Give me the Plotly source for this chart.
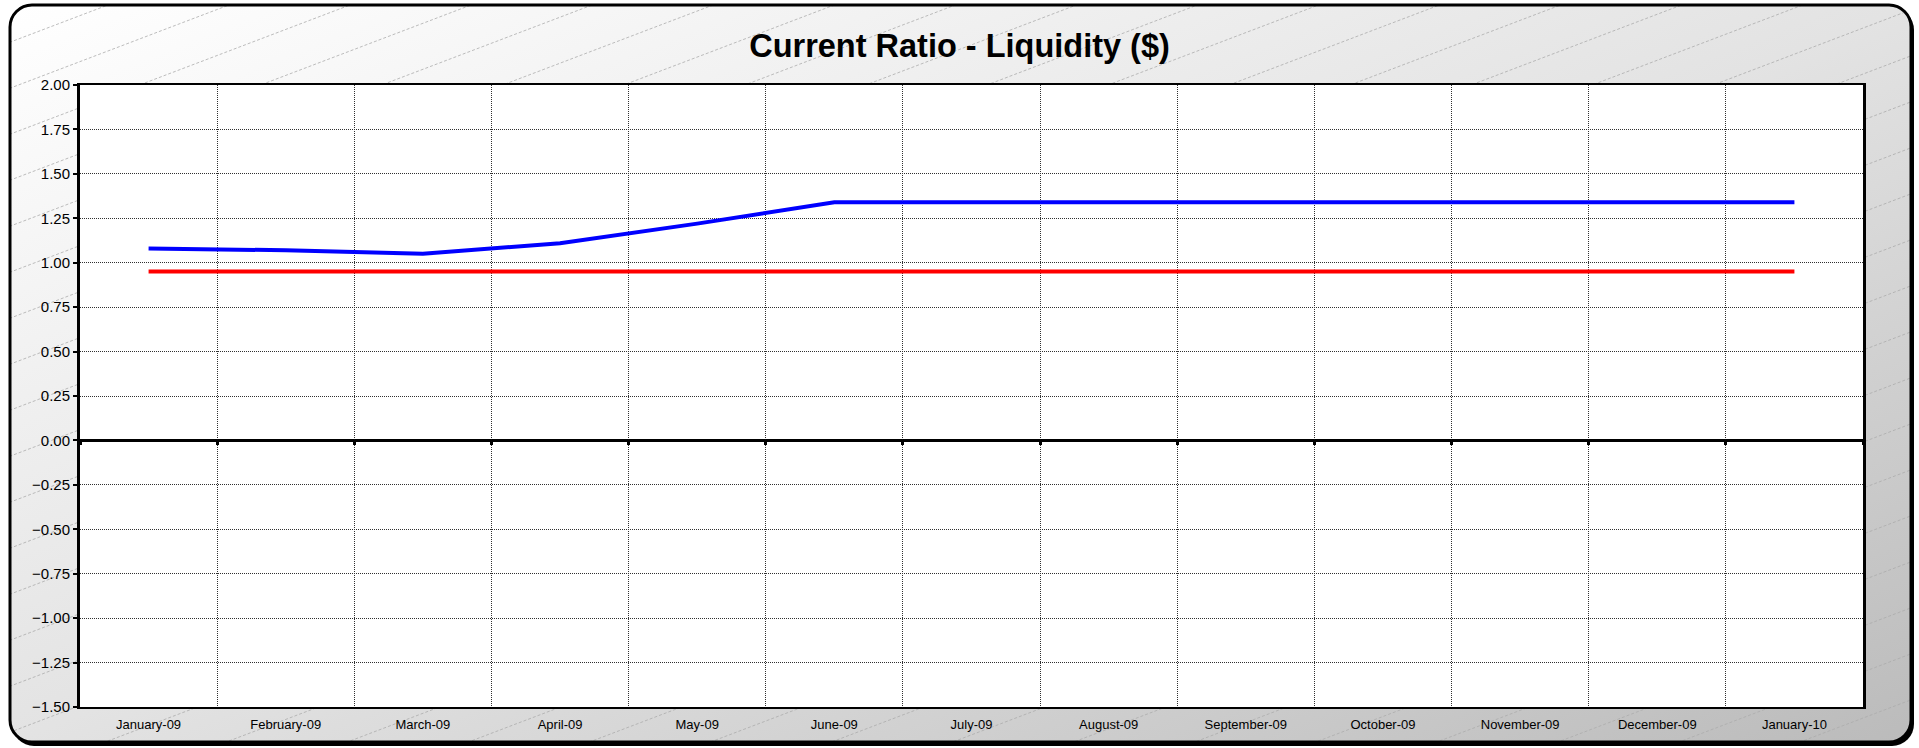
"""Current ratio chart, Excel-style frame, rebuilt in Plotly."""
import base64
import plotly.graph_objects as go

months = ["January-09", "February-09", "March-09", "April-09", "May-09", "June-09",
          "July-09", "August-09", "September-09", "October-09", "November-09",
          "December-09", "January-10"]
current_ratio = [1.08, 1.07, 1.05, 1.11, 1.22, 1.34, 1.34, 1.34, 1.34, 1.34, 1.34, 1.34, 1.34]
benchmark = [0.95, 0.95, 0.95, 0.95, 0.95, 0.95, 0.95, 0.95, 0.95, 0.95, 0.95, 0.95, 0.95]
y_ticks = [-1.5, -1.25, -1.0, -0.75, -0.5, -0.25, 0.0, 0.25, 0.5, 0.75, 1.0, 1.25, 1.5, 1.75, 2.0]

W, H = 1919, 748
ML, MR, MT, MB = 80, 56, 85, 41
PW, PH = W - ML - MR, H - MT - MB
FONT = "Liberation Sans, Arial, sans-serif"


def frame_svg():
    # rounded grey gradient panel with faint diagonal hatching
    lines = []
    c = 0
    while c < H + 0.38 * W:
        lines.append(f'<line x1="0" y1="{c:.1f}" x2="{W}" y2="{c - 0.38 * W:.1f}"/>')
        c += 46
    svg = f'''<svg xmlns="http://www.w3.org/2000/svg" width="{W}" height="{H}" viewBox="0 0 {W} {H}" preserveAspectRatio="none">
<defs>
<linearGradient id="g" x1="0" y1="0" x2="1" y2="1">
<stop offset="0" stop-color="#ffffff"/><stop offset="0.5" stop-color="#e3e3e3"/><stop offset="1" stop-color="#bbbbbb"/>
</linearGradient>
<clipPath id="c"><rect x="10" y="5" width="1901" height="737" rx="22"/></clipPath>
</defs>
<rect x="12" y="8" width="1902" height="738" rx="22" fill="#000"/>
<rect x="10" y="5" width="1901" height="737" rx="22" fill="url(#g)"/>
<g clip-path="url(#c)" stroke="#acacac" stroke-width="0.8" stroke-dasharray="3,2">{''.join(lines)}</g>
<rect x="10" y="5" width="1901" height="737" rx="22" fill="none" stroke="#000" stroke-width="3"/>
</svg>'''
    return "data:image/svg+xml;base64," + base64.b64encode(svg.encode()).decode()


fig = go.Figure()
fig.add_trace(go.Scatter(x=months, y=current_ratio, mode="lines", name="Current Ratio",
                         line=dict(color="#0000FF", width=4)))
fig.add_trace(go.Scatter(x=months, y=benchmark, mode="lines", name="Benchmark",
                         line=dict(color="#FF0000", width=4)))
# carrier for the axis that crosses at zero
fig.add_trace(go.Scatter(x=months, y=benchmark, xaxis="x2", mode="markers",
                         marker=dict(opacity=0), hoverinfo="skip", showlegend=False))

fig.update_layout(
    width=W, height=H,
    margin=dict(l=ML, r=MR, t=MT, b=MB),
    paper_bgcolor="#ffffff", plot_bgcolor="#ffffff",
    font=dict(family=FONT, color="#000000"),
    showlegend=False,
    title=dict(text="<b>Current Ratio - Liquidity ($)</b>", x=0.5, xref="container",
               xanchor="center", y=1 - 46 / H, yanchor="middle",
               font=dict(size=32.5, family=FONT, color="#000000")),
    xaxis=dict(type="category", categoryarray=months, range=[-0.5, 12.5],
               tickson="boundaries", ticks="", showgrid=True, gridcolor="#303030",
               griddash="1px,1px", gridwidth=1, showline=True, linecolor="#000000",
               linewidth=2, mirror=True, tickfont=dict(size=13), zeroline=False,
               ticklabelstandoff=4),
    xaxis2=dict(type="category", categoryarray=months, range=[-0.5, 12.5],
                overlaying="x", anchor="free", position=1.5 / 3.5, side="bottom",
                tickson="boundaries", ticks="outside", ticklen=3, tickwidth=3,
                tickcolor="#000000", showline=True, linecolor="#000000", linewidth=3,
                showticklabels=False, showgrid=False, zeroline=False),
    yaxis=dict(range=[-1.5, 2.0], tickvals=y_ticks, tickformat=".2f",
               ticks="outside", ticklen=4, tickwidth=2, tickcolor="#000000",
               showgrid=True, gridcolor="#303030", griddash="1px,1px", gridwidth=1,
               showline=True, linecolor="#000000", linewidth=3, mirror=True,
               zeroline=False, tickfont=dict(size=15)),
    images=[dict(source=frame_svg(), xref="paper", yref="paper",
                 x=-ML / PW, y=1 + MT / PH, sizex=W / PW, sizey=H / PH,
                 xanchor="left", yanchor="top", sizing="stretch", layer="below")],
    shapes=[dict(type="rect", xref="paper", yref="paper", x0=0, x1=1, y0=0, y1=1,
                 fillcolor="#ffffff", line=dict(width=0), layer="below")],
)

fig.write_html("out.html", config={"displayModeBar": False},
               post_script="document.body.style.margin='0';")
